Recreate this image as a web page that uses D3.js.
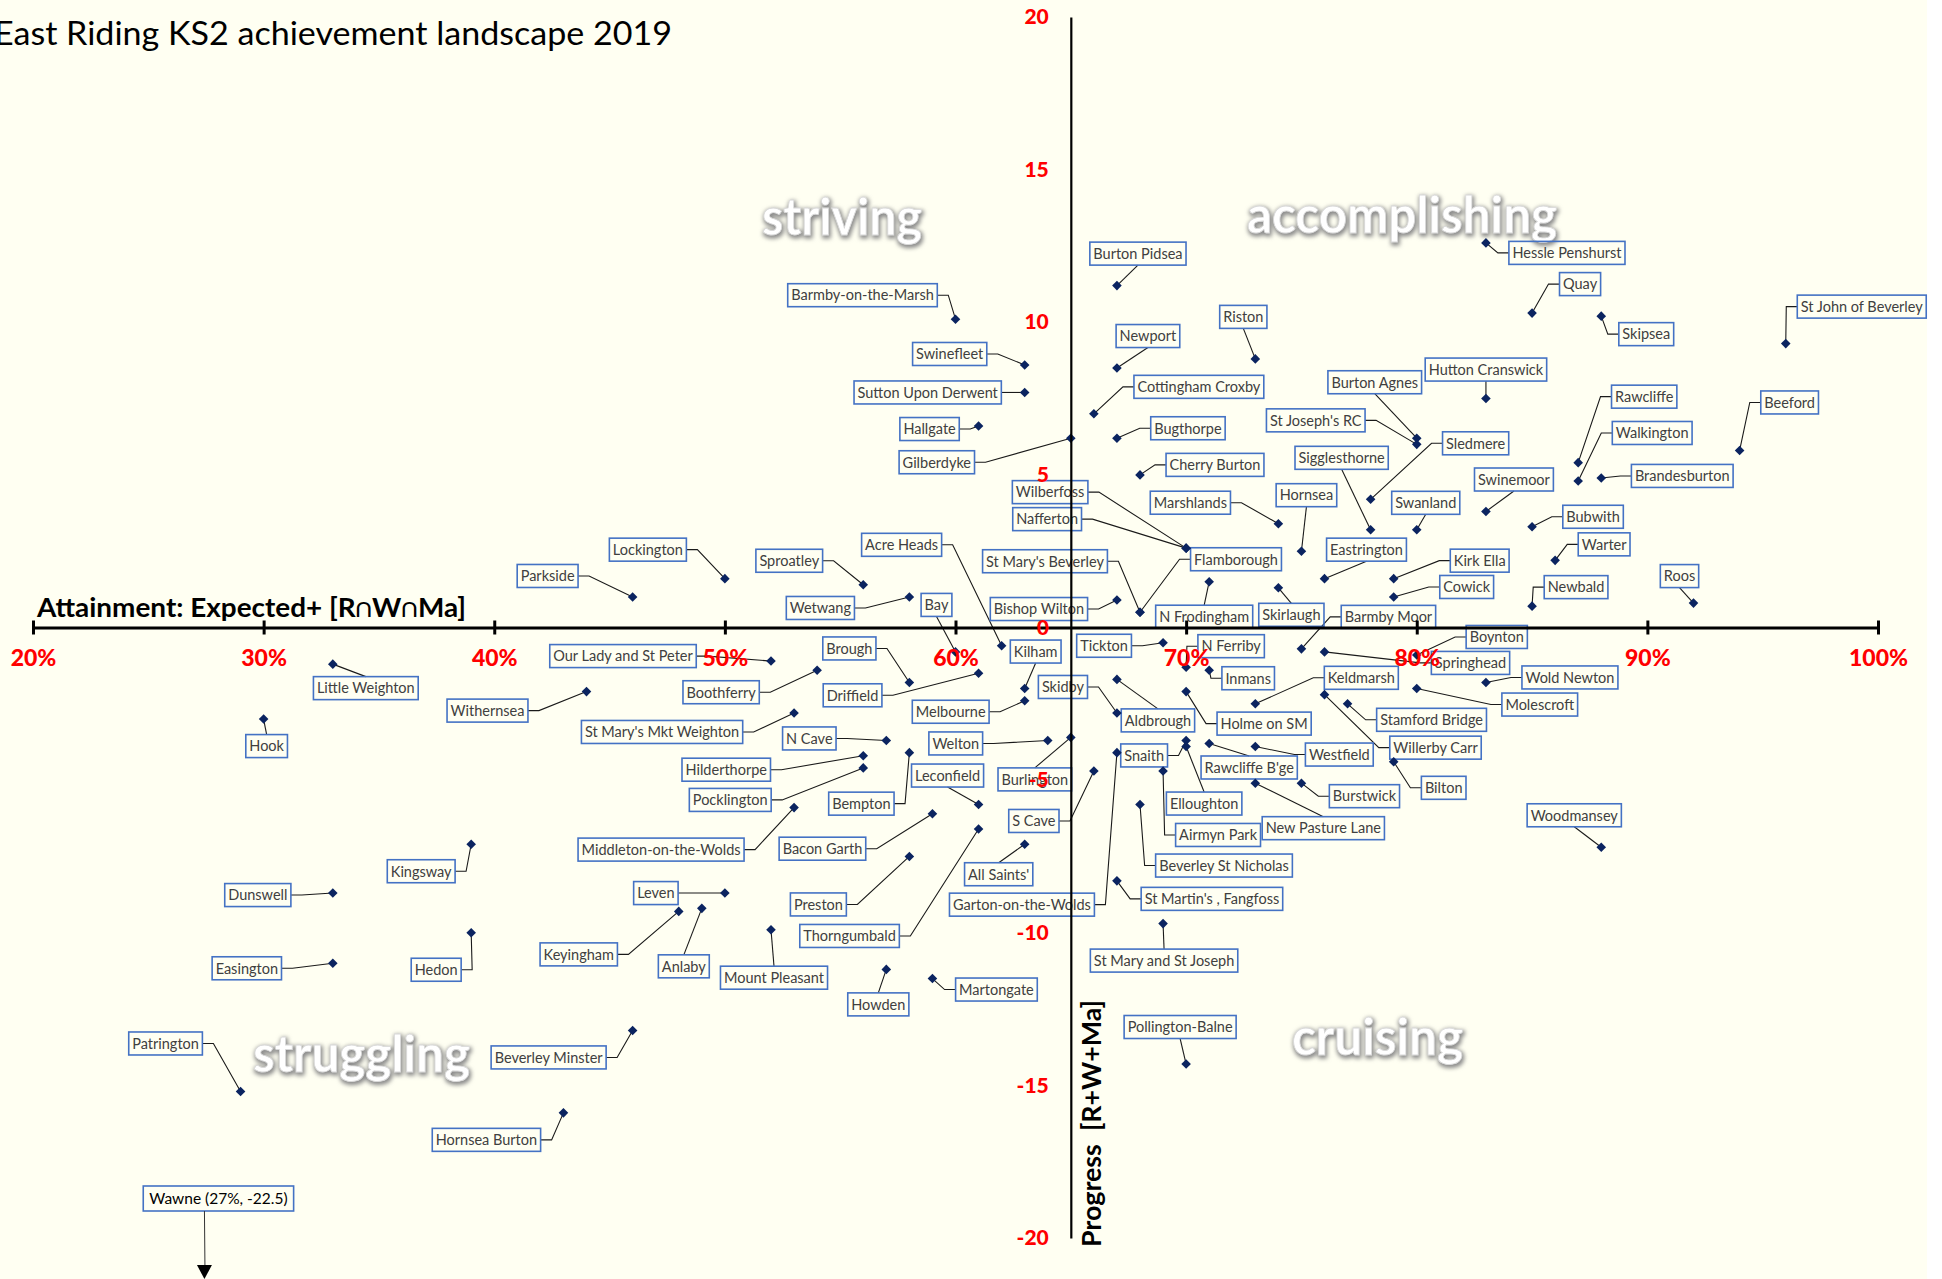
<!DOCTYPE html>
<html>
<head>
<meta charset="utf-8">
<script src="https://cdn.jsdelivr.net/npm/d3@7"></script>
<style>
  html, body { margin: 0; padding: 0; background: #ffffff; }
  svg { display: block; }
</style>
</head>
<body>
<div id="chart"></div>
<script>
// School names, attainment (% expected+ R∩W∩Ma) and progress (R+W+Ma)
const schools = [
  "Barmby-on-the-Marsh", "Swinefleet", "Sutton Upon Derwent", "Hallgate", "Gilberdyke",
  "Wilberfoss", "Nafferton", "Acre Heads", "St Mary's Beverley", "Flamborough",
  "Lockington", "Parkside", "Sproatley", "Wetwang", "Bay",
  "Bishop Wilton", "Burton Pidsea", "Hessle Penshurst", "Quay", "St John of Beverley",
  "Riston", "Newport", "Skipsea", "Burton Agnes", "Hutton Cranswick",
  "Cottingham Croxby", "St Joseph's RC", "Rawcliffe", "Beeford", "Bugthorpe",
  "Sledmere", "Walkington", "Cherry Burton", "Sigglesthorne", "Brandesburton",
  "Swinemoor", "Marshlands", "Hornsea", "Swanland", "Bubwith",
  "Eastrington", "Warter", "Kirk Ella", "Cowick", "Newbald",
  "Roos", "N Frodingham", "Skirlaugh", "Barmby Moor", "Boynton",
  "Springhead", "Tickton", "N Ferriby", "Inmans", "Kilham",
  "Driffield", "Skidby", "Melbourne", "Aldbrough", "Holme on SM",
  "Keldmarsh", "Wold Newton", "Molescroft", "Stamford Bridge", "Willerby Carr",
  "Bilton", "Westfield", "Rawcliffe B'ge", "Burstwick", "New Pasture Lane",
  "Snaith", "Elloughton", "Airmyn Park", "Garton-on-the-Wolds", "Beverley St Nicholas",
  "Burlington", "S Cave", "Welton", "Leconfield", "Thorngumbald",
  "All Saints'", "St Martin's , Fangfoss", "St Mary and St Joseph", "Pollington-Balne", "Martongate",
  "Howden", "Preston", "Mount Pleasant", "Anlaby", "Keyingham",
  "Leven", "Bacon Garth", "Middleton-on-the-Wolds", "Bempton", "Pocklington",
  "Hilderthorpe", "N Cave", "St Mary's Mkt Weighton", "Boothferry", "Brough",
  "Our Lady and St Peter", "Little Weighton", "Withernsea", "Hook", "Kingsway",
  "Dunswell", "Easington", "Hedon", "Patrington", "Hornsea Burton",
  "Beverley Minster", "Woodmansey"
];
const attainment = [
  60, 63, 63, 61, 65,
  70, 70, 62, 68, 68,
  50, 46, 56, 58, 60,
  67, 67, 83, 85, 96,
  73, 67, 88, 80, 83,
  66, 80, 87, 94, 67,
  78, 87, 68, 78, 88,
  83, 74, 75, 80, 85,
  76, 86, 79, 79, 85,
  92, 71, 74, 75, 80,
  76, 69, 70, 71, 63,
  61, 67, 63, 67, 70,
  73, 83, 80, 77, 76,
  79, 73, 71, 75, 73,
  70, 70, 69, 67, 68,
  65, 66, 64, 61, 61,
  63, 67, 69, 70, 59,
  57, 58, 52, 49, 48,
  50, 59, 53, 58, 56,
  56, 57, 53, 54, 58,
  52, 33, 44, 30, 39,
  33, 33, 39, 29, 43,
  46, 88
];
const progress = [
  10.1, 8.6, 7.7, 6.6, 6.2,
  2.6, 2.6, -0.6, 0.5, 0.5,
  1.6, 1.0, 1.4, 1.0, -0.8,
  0.9, 11.2, 12.6, 10.3, 9.3,
  8.8, 8.5, 10.2, 6.2, 7.5,
  7.0, 6.0, 5.4, 5.8, 6.2,
  4.2, 4.8, 5.0, 3.2, 4.9,
  3.8, 3.4, 2.5, 3.2, 3.3,
  1.6, 2.2, 1.6, 1.0, 0.7,
  0.8, 1.5, 1.3, -0.7, -0.9,
  -0.8, -0.5, -1.3, -1.4, -2.0,
  -1.5, -2.8, -2.4, -1.7, -2.1,
  -2.5, -1.8, -2.0, -2.5, -2.2,
  -4.4, -3.9, -3.8, -5.1, -5.1,
  -3.7, -3.9, -4.7, -4.1, -5.8,
  -3.6, -4.7, -3.7, -5.8, -6.6,
  -7.1, -8.3, -9.7, -14.3, -11.5,
  -11.2, -7.5, -9.9, -9.2, -9.3,
  -8.7, -6.1, -5.9, -4.1, -4.6,
  -4.2, -3.7, -2.8, -1.4, -1.8,
  -1.1, -1.2, -2.1, -3.0, -7.1,
  -8.7, -11.0, -10.0, -15.2, -15.9,
  -13.2, -7.2
];
// where each data label sits, relative to its marker (px)
const labelOffsets = [
  [-93, -24], [-75, -11], [-97, 0], [-49, 3], [-134, 24],
  [-136, -56], [-139, -29], [-100, -101], [-95, -51], [96, -53],
  [-77, -29], [-85, -21], [-74, -24], [-89, 11], [-19, -47],
  [-78, 9], [21, -32], [81, 10], [48, -29], [76, -37],
  [-12, -42], [31, -32], [45, 18], [-42, -56], [0, -29],
  [105, -27], [-101, -24], [66, -66], [50, -48], [71, -10],
  [105, -56], [74, -48], [75, -10], [-29, -72], [81, -2],
  [28, -32], [-88, -21], [5, -56], [9, -27], [61, -10],
  [42, -29], [49, -16], [86, -18], [73, -10], [44, -19],
  [-14, -27], [-5, 35], [13, 27], [87, -32], [80, -18],
  [146, 11], [-59, 3], [45, -21], [39, 8], [11, -37],
  [-126, 22], [-54, -26], [-74, 11], [41, 41], [78, 32],
  [106, -26], [84, -5], [123, 16], [84, 16], [111, 53],
  [50, 26], [84, 8], [40, 24], [63, 13], [68, 45],
  [-42, 15], [18, 57], [55, 64], [-95, 152], [84, 61],
  [-36, 42], [-60, 50], [-92, 3], [-31, -29], [-129, 107],
  [-26, 30], [95, 18], [1, 37], [-6, -37], [64, 11],
  [-8, 35], [-91, 48], [3, 48], [-18, 58], [-100, 43],
  [-69, 0], [-110, 35], [-133, 42], [-48, 51], [-133, 32],
  [-137, 14], [-77, -2], [-132, 19], [-96, 22], [-60, -34],
  [-148, -5], [33, 24], [-99, 19], [3, 27], [-50, 27],
  [-75, 2], [-86, 5], [-35, 37], [-75, -48], [-77, 27],
  [-84, 27], [-27, -32]
];

// off-scale school, shown as an arrow annotation
const offChart = { name: "Wawne", att: 27, prog: -22.5 };

const xTicks = [20, 30, 40, 50, 60, 70, 80, 90, 100];
const yTicks = [20, 15, 10, 5, 0, -5, -10, -15, -20];
const quadrantNames = ["striving", "accomplishing", "struggling", "cruising"];
// baseline-left position and width of each quadrant word (px)
const quadrantPos = {
  striving: [762, 235, 160],
  accomplishing: [1247, 233, 310],
  struggling: [253, 1072, 217],
  cruising: [1292, 1055, 171]
};

const W = 1942, H = 1279;
const FONT = "Lato, Carlito, Calibri, 'Open Sans', sans-serif";

const data = schools.map((s, i) => ({
  name: s, att: attainment[i], prog: progress[i], off: labelOffsets[i]
}));

const x = d3.scaleLinear().domain([20, 100]).range([33, 1878]);
const y = d3.scaleLinear().domain([-20, 20]).range([1238, 17]);
const yAxisAt = 65; // progress axis crosses attainment at 65%

const svg = d3.select("#chart").append("svg")
    .attr("width", W)
    .attr("height", H);

// soft grey glow for the quadrant words
const defs = svg.append("defs");
const glow = defs.append("filter").attr("id", "glow")
    .attr("x", "-10%").attr("y", "-30%").attr("width", "120%").attr("height", "160%");
glow.append("feMorphology").attr("in", "SourceAlpha").attr("operator", "dilate").attr("radius", 1.2).attr("result", "dil");
glow.append("feGaussianBlur").attr("in", "dil").attr("stdDeviation", 2.2).attr("result", "blur");
glow.append("feOffset").attr("in", "blur").attr("dx", 1).attr("dy", 1.5).attr("result", "off");
glow.append("feFlood").attr("flood-color", "#8a8a8a").attr("result", "col");
glow.append("feComposite").attr("in", "col").attr("in2", "off").attr("operator", "in").attr("result", "shadow");
const merge = glow.append("feMerge");
merge.append("feMergeNode").attr("in", "shadow");
merge.append("feMergeNode").attr("in", "SourceGraphic");

svg.append("rect")
    .attr("x", 0).attr("y", 0)
    .attr("width", 1927).attr("height", H)
    .attr("fill", "#fffff2");

// Quadrant words
svg.append("g").selectAll("text")
    .data(quadrantNames)
    .enter()
    .append("text")
    .attr("x", d => quadrantPos[d][0])
    .attr("y", d => quadrantPos[d][1])
    .attr("textLength", d => quadrantPos[d][2])
    .attr("lengthAdjust", "spacingAndGlyphs")
    .attr("font-family", FONT)
    .attr("font-weight", 700)
    .attr("font-size", 52)
    .attr("fill", "#ffffff")
    .attr("stroke", "#d9d9d9")
    .attr("stroke-width", 0.8)
    .attr("filter", "url(#glow)")
    .text(d => d);

// Title
svg.append("text")
    .attr("x", -6)
    .attr("y", 45)
    .attr("textLength", 678)
    .attr("lengthAdjust", "spacingAndGlyphs")
    .attr("font-family", FONT)
    .attr("font-size", 32)
    .attr("fill", "#000")
    .text("East Riding KS2 achievement landscape 2019");

// Data labels with leader lines
const leaderG = svg.append("g");
const boxG = svg.append("g");
const textG = svg.append("g");
const markerG = svg.append("g");

function leaderPath(b, px, py) {
    const margin = 10, stub = 11;
    const my = (b.y0 + b.y1) / 2;
    if (px < b.x0 - margin) return `M${b.x0},${my}H${b.x0 - stub}L${px},${py}`;
    if (px > b.x1 + margin) return `M${b.x1},${my}H${b.x1 + stub}L${px},${py}`;
    const cx = (b.x0 + b.x1) / 2;
    if (py < b.y0) return `M${cx},${b.y0}L${px},${py}`;
    return `M${cx},${b.y1}L${px},${py}`;
}

data.forEach(d => {
    const px = x(d.att), py = y(d.prog);
    const cx = px + d.off[0], cy = py + d.off[1];
    const t = textG.append("text")
        .attr("x", cx)
        .attr("y", cy + 5.3)
        .attr("text-anchor", "middle")
        .attr("font-family", FONT)
        .attr("font-size", 14.5)
        .attr("fill", "#404040")
        .text(d.name);
    const w = t.node().getComputedTextLength() + 7;
    const b = { x0: cx - w / 2, x1: cx + w / 2, y0: cy - 11.5, y1: cy + 11.5 };
    boxG.append("rect")
        .attr("x", b.x0).attr("y", b.y0)
        .attr("width", w).attr("height", b.y1 - b.y0)
        .attr("fill", "none")
        .attr("stroke", "#4472c4")
        .attr("stroke-width", 1.6);
    leaderG.append("path")
        .attr("d", leaderPath(b, px, py))
        .attr("fill", "none")
        .attr("stroke", "#1a1a1a")
        .attr("stroke-width", 1.1);
});

markerG.selectAll("path")
    .data(data)
    .enter()
    .append("path")
    .attr("d", d3.symbol().type(d3.symbolSquare).size(46))
    .attr("transform", d => `translate(${x(d.att)},${y(d.prog)}) rotate(45)`)
    .attr("fill", "#0b2460");

// Wawne annotation (value below the axis range)
const ax = x(offChart.att) + 10;
const wawneText = svg.append("text")
    .attr("x", ax + 14)
    .attr("y", 1198.5 + 5.5)
    .attr("text-anchor", "middle")
    .attr("font-family", FONT)
    .attr("font-size", 15.5)
    .attr("fill", "#000")
    .text(`${offChart.name} (${offChart.att}%, ${offChart.prog})`);
const ww = wawneText.node().getComputedTextLength() + 12;
svg.append("rect")
    .attr("x", ax + 14 - ww / 2).attr("y", 1186)
    .attr("width", ww).attr("height", 25)
    .attr("fill", "none")
    .attr("stroke", "#4472c4")
    .attr("stroke-width", 1.6);
svg.append("line")
    .attr("x1", ax).attr("x2", ax + 0.5)
    .attr("y1", 1211).attr("y2", 1266)
    .attr("stroke", "#333").attr("stroke-width", 1);
svg.append("path")
    .attr("d", `M${ax - 7.5},1265L${ax + 7.5},1265L${ax},1279Z`)
    .attr("fill", "#000");

// X axis (attainment) crossing at progress 0
const xAxis = svg.append("g")
    .attr("transform", `translate(0,${y(0)})`)
    .call(d3.axisBottom(x).tickValues(xTicks).tickSizeOuter(0).tickSizeInner(7).tickFormat(d => d + "%"));
xAxis.select(".domain").attr("stroke", "#000").attr("stroke-width", 3);
xAxis.selectAll(".tick line").attr("y1", -7).attr("y2", 7).attr("stroke", "#000").attr("stroke-width", 3);
xAxis.selectAll(".tick text")
    .attr("y", 30)
    .attr("dy", "0.36em")
    .attr("font-family", FONT)
    .attr("font-weight", 900)
    .attr("font-size", 23)
    .attr("fill", "#ff0000");

// Y axis (progress) crossing at 65%
const yAxis = svg.append("g")
    .attr("transform", `translate(${x(yAxisAt)},0)`)
    .call(d3.axisLeft(y).tickValues(yTicks).tickSizeOuter(0).tickSizeInner(0).tickPadding(22).tickFormat(d => String(d)));
yAxis.select(".domain").attr("stroke", "#000").attr("stroke-width", 2.2);
yAxis.selectAll(".tick text")
    .attr("font-family", FONT)
    .attr("font-weight", 900)
    .attr("font-size", 21)
    .attr("fill", "#ff0000");

// Axis titles
svg.append("text")
    .attr("x", 37)
    .attr("y", 617)
    .attr("textLength", 429)
    .attr("lengthAdjust", "spacingAndGlyphs")
    .attr("font-family", FONT)
    .attr("font-weight", 700)
    .attr("font-size", 27)
    .attr("fill", "#000")
    .text("Attainment: Expected+ [R∩W∩Ma]");

svg.append("text")
    .attr("transform", "translate(1101,1247) rotate(-90)")
    .attr("textLength", 247)
    .attr("lengthAdjust", "spacingAndGlyphs")
    .style("white-space", "pre")
    .attr("font-family", FONT)
    .attr("font-weight", 700)
    .attr("font-size", 27)
    .attr("fill", "#000")
    .text("Progress  [R+W+Ma]");
</script>
</body>
</html>
